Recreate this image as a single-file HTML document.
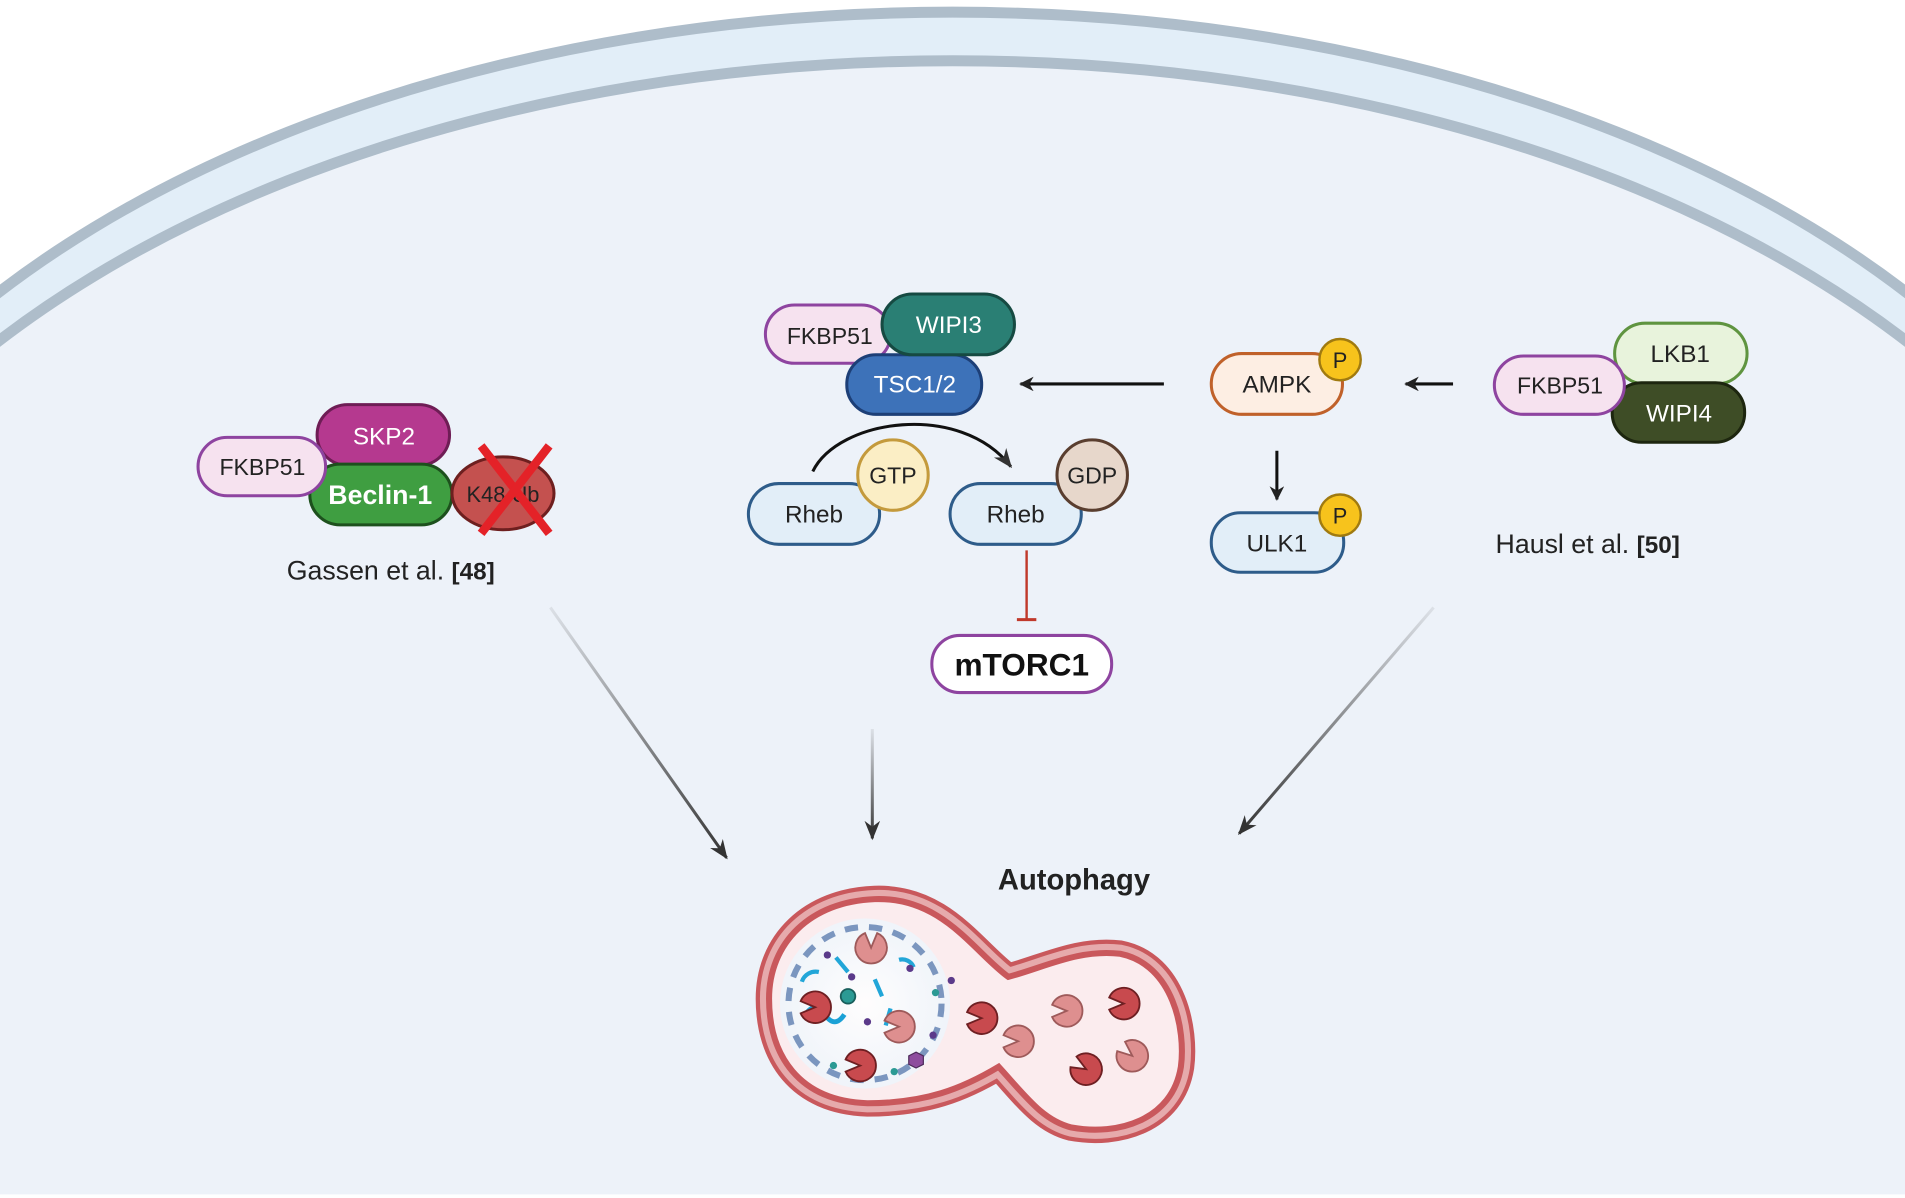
<!DOCTYPE html>
<html><head><meta charset="utf-8"><style>
html,body{margin:0;padding:0;background:#fff;width:1905px;height:1198px;overflow:hidden;}
svg{display:block;}
text{font-family:"Liberation Sans",sans-serif;}
</style></head><body>
<svg width="1905" height="1198" viewBox="0 0 1568 986" preserveAspectRatio="none" xmlns="http://www.w3.org/2000/svg">
<defs>
<marker id="ah" viewBox="0 0 10 10" refX="9" refY="5" markerWidth="12" markerHeight="12" orient="auto" markerUnits="userSpaceOnUse"><path d="M0,0 L10,5 L0,10 L3,5 Z" fill="#222"/></marker>
<marker id="ah2" viewBox="0 0 10 10" refX="9" refY="5" markerWidth="16" markerHeight="16" orient="auto" markerUnits="userSpaceOnUse"><path d="M0,1 L10,5 L0,9 L3,5 Z" fill="#333"/></marker>
<linearGradient id="g1" gradientUnits="userSpaceOnUse" x1="453" y1="500" x2="598" y2="706"><stop offset="0" stop-color="#444" stop-opacity="0.1"/><stop offset="1" stop-color="#333"/></linearGradient>
<linearGradient id="g2" gradientUnits="userSpaceOnUse" x1="718" y1="600" x2="718" y2="690"><stop offset="0" stop-color="#444" stop-opacity="0.1"/><stop offset="1" stop-color="#333"/></linearGradient>
<linearGradient id="g3" gradientUnits="userSpaceOnUse" x1="1180" y1="500" x2="1020" y2="686"><stop offset="0" stop-color="#444" stop-opacity="0.1"/><stop offset="1" stop-color="#333"/></linearGradient>
<radialGradient id="lg" cx="0.5" cy="0.5" r="0.5"><stop offset="0" stop-color="#ffffff"/><stop offset="1" stop-color="#eef5fb"/></radialGradient>
</defs>
<rect width="1568" height="986" fill="#fff"/>
<ellipse cx="784" cy="616" rx="1000" ry="606" fill="#e2eef8" stroke="#aebdca" stroke-width="9"/>
<ellipse cx="784" cy="656" rx="1000" ry="606" fill="#edf2f9" stroke="#aebdca" stroke-width="9"/>
<rect x="0" y="983" width="1568" height="3" fill="#fff"/>

<rect x="261" y="333" width="109" height="50" rx="25" fill="#b5398f" stroke="#6e1d55" stroke-width="2.5"/>
<text x="316" y="366" font-size="20" fill="#fff" text-anchor="middle">SKP2</text>
<rect x="255" y="382" width="117" height="50" rx="25" fill="#3f9e41" stroke="#1d501d" stroke-width="2.5"/>
<text x="313" y="415" font-size="22" font-weight="bold" fill="#fff" text-anchor="middle">Beclin-1</text>
<ellipse cx="414" cy="406" rx="42" ry="30" fill="#c4514f" stroke="#6e1f1f" stroke-width="2.5"/>
<text x="414" y="413" font-size="18" fill="#222" text-anchor="middle">K48 Ub</text>
<line x1="396" y1="367" x2="452" y2="439" stroke="#e42228" stroke-width="7"/>
<line x1="452" y1="367" x2="396" y2="439" stroke="#e42228" stroke-width="7"/>
<rect x="163" y="360" width="105" height="48" rx="24" fill="#f6e2ef" stroke="#8e44a0" stroke-width="2.5"/>
<text x="216" y="391" font-size="19" fill="#222" text-anchor="middle">FKBP51</text>
<text x="236" y="477" font-size="22" fill="#222">Gassen et al. <tspan font-weight="bold" font-size="20">[48]</tspan></text>

<rect x="630" y="251" width="103" height="48" rx="24" fill="#f6e2ef" stroke="#8e44a0" stroke-width="2.5"/>
<text x="683" y="283" font-size="19" fill="#222" text-anchor="middle">FKBP51</text>
<rect x="697" y="292" width="111" height="49" rx="24" fill="#3d72b9" stroke="#1d3f77" stroke-width="2.5"/>
<text x="753" y="323" font-size="20" fill="#fff" text-anchor="middle">TSC1/2</text>
<rect x="726" y="242" width="109" height="50" rx="25" fill="#2a7f74" stroke="#164a42" stroke-width="2.5"/>
<text x="781" y="274" font-size="20" fill="#fff" text-anchor="middle">WIPI3</text>

<path d="M669,388 C690,345 790,330 832,384" fill="none" stroke="#111" stroke-width="2.5" marker-end="url(#ah2)"/>
<rect x="616" y="398" width="108" height="50" rx="25" fill="#e2eef8" stroke="#2e5c8a" stroke-width="2.5"/>
<text x="670" y="430" font-size="20" fill="#222" text-anchor="middle">Rheb</text>
<circle cx="735" cy="391" r="29" fill="#fbeec5" stroke="#c49a3c" stroke-width="2.5"/>
<text x="735" y="398" font-size="19" fill="#222" text-anchor="middle">GTP</text>
<rect x="782" y="398" width="108" height="50" rx="25" fill="#e2eef8" stroke="#2e5c8a" stroke-width="2.5"/>
<text x="836" y="430" font-size="20" fill="#222" text-anchor="middle">Rheb</text>
<circle cx="899" cy="391" r="29" fill="#e7d7cb" stroke="#5a3e2f" stroke-width="2.5"/>
<text x="899" y="398" font-size="19" fill="#222" text-anchor="middle">GDP</text>
<line x1="845" y1="453" x2="845" y2="510" stroke="#c0392b" stroke-width="2"/>
<line x1="837" y1="510" x2="853" y2="510" stroke="#c0392b" stroke-width="2.5"/>
<rect x="767" y="523" width="148" height="47" rx="23" fill="#fff" stroke="#8e44a0" stroke-width="2.5"/>
<text x="841" y="556" font-size="26" font-weight="bold" fill="#111" text-anchor="middle">mTORC1</text>

<line x1="958" y1="316" x2="840" y2="316" stroke="#111" stroke-width="2.5" marker-end="url(#ah)"/>
<rect x="997" y="291" width="108" height="50" rx="25" fill="#fdeee3" stroke="#c0612a" stroke-width="2.5"/>
<text x="1051" y="323" font-size="20" fill="#222" text-anchor="middle">AMPK</text>
<circle cx="1103" cy="296" r="17" fill="#f7c31c" stroke="#a07a10" stroke-width="2"/>
<text x="1103" y="303" font-size="18" fill="#222" text-anchor="middle">P</text>
<line x1="1196" y1="316" x2="1157" y2="316" stroke="#111" stroke-width="2.5" marker-end="url(#ah)"/>
<line x1="1051" y1="371" x2="1051" y2="411" stroke="#111" stroke-width="2.5" marker-end="url(#ah)"/>
<rect x="997" y="422" width="109" height="49" rx="24" fill="#e2eef8" stroke="#2e5c8a" stroke-width="2.5"/>
<text x="1051" y="454" font-size="20" fill="#222" text-anchor="middle">ULK1</text>
<circle cx="1103" cy="424" r="17" fill="#f7c31c" stroke="#a07a10" stroke-width="2"/>
<text x="1103" y="431" font-size="18" fill="#222" text-anchor="middle">P</text>

<rect x="1329" y="266" width="109" height="50" rx="25" fill="#e8f3dc" stroke="#5f9440" stroke-width="2.5"/>
<text x="1383" y="298" font-size="20" fill="#222" text-anchor="middle">LKB1</text>
<rect x="1327" y="315" width="109" height="49" rx="24" fill="#3e4d26" stroke="#1d260f" stroke-width="2.5"/>
<text x="1382" y="347" font-size="20" fill="#fff" text-anchor="middle">WIPI4</text>
<rect x="1230" y="293" width="107" height="48" rx="24" fill="#f6e2ef" stroke="#8e44a0" stroke-width="2.5"/>
<text x="1284" y="324" font-size="19" fill="#222" text-anchor="middle">FKBP51</text>
<text x="1231" y="455" font-size="22" fill="#222">Hausl et al. <tspan font-weight="bold" font-size="20">[50]</tspan></text>

<line x1="453" y1="500" x2="598" y2="706" stroke="url(#g1)" stroke-width="2.5" marker-end="url(#ah2)"/>
<line x1="718" y1="600" x2="718" y2="690" stroke="url(#g2)" stroke-width="2.5" marker-end="url(#ah2)"/>
<line x1="1180" y1="500" x2="1020" y2="686" stroke="url(#g3)" stroke-width="2.5" marker-end="url(#ah2)"/>

<text x="884" y="732" font-size="24" font-weight="bold" fill="#222" text-anchor="middle">Autophagy</text>

<g>
<path d="M720,740 C776,738 802,784 830,804 C860,796 888,781 922,785 C966,794 976,848 972,878 C965,922 920,935 882,928 C858,922 844,902 822,878 C792,896 762,908 714,908 C657,906 633,868 633,822 C633,776 667,742 720,740 Z" fill="none" stroke="#c9585c" stroke-width="22"/>
<path d="M720,740 C776,738 802,784 830,804 C860,796 888,781 922,785 C966,794 976,848 972,878 C965,922 920,935 882,928 C858,922 844,902 822,878 C792,896 762,908 714,908 C657,906 633,868 633,822 C633,776 667,742 720,740 Z" fill="none" stroke="#e6aaac" stroke-width="15"/>
<path d="M720,740 C776,738 802,784 830,804 C860,796 888,781 922,785 C966,794 976,848 972,878 C965,922 920,935 882,928 C858,922 844,902 822,878 C792,896 762,908 714,908 C657,906 633,868 633,822 C633,776 667,742 720,740 Z" fill="#fbecee" stroke="#c9585c" stroke-width="5"/>
<circle cx="712" cy="826" r="70" fill="url(#lg)" opacity="0.9"/>
<circle cx="712" cy="826" r="63" fill="none" stroke="#7b96bf" stroke-width="5" stroke-dasharray="11 9"/>
<path d="M663,835 q8,-12 16,0 q8,12 16,0" fill="none" stroke="#1ba1d6" stroke-width="4"/>
<path d="M688,788 l10,12 M720,806 l6,14 M733,830 l-4,14 M660,808 a12,12 0 0 1 14,-8 M740,790 a10,10 0 0 1 12,6" fill="none" stroke="#22a6d8" stroke-width="3.5"/>
<circle cx="698" cy="820" r="6" fill="#2b9a94" stroke="#1a5f5c" stroke-width="1.5"/>
<g fill="#5b3a8a"><circle cx="681" cy="786" r="3"/><circle cx="701" cy="804" r="3"/><circle cx="714" cy="841" r="3"/><circle cx="749" cy="797" r="3"/><circle cx="783" cy="807" r="3"/><circle cx="768" cy="852" r="3"/></g>
<g fill="#2b9a94"><circle cx="686" cy="877" r="3"/><circle cx="736" cy="882" r="3"/><circle cx="770" cy="817" r="3"/></g>
<polygon points="754,866 760,869 760,876 754,879 748,876 748,869" fill="#8e4d9e" stroke="#4d2b5a" stroke-width="1"/>
<g stroke-width="1.5">
<g transform="translate(671,829)"><path d="M0,0 L-12,-5 A13,13 0 1,1 -12,5 Z" fill="#c84a4e" stroke="#6e1f22"/></g>
<g transform="translate(717,780) rotate(90)"><path d="M0,0 L-12,-5 A13,13 0 1,1 -12,5 Z" fill="#de8f8f" stroke="#9e5a5a"/></g>
<g transform="translate(740,845)"><path d="M0,0 L-12,-5 A13,13 0 1,1 -12,5 Z" fill="#de8f8f" stroke="#9e5a5a"/></g>
<g transform="translate(708,877)"><path d="M0,0 L-12,-5 A13,13 0 1,1 -12,5 Z" fill="#c84a4e" stroke="#6e1f22"/></g>
<g transform="translate(808,838)"><path d="M0,0 L-12,-5 A13,13 0 1,1 -12,5 Z" fill="#c84a4e" stroke="#6e1f22"/></g>
<g transform="translate(878,832)"><path d="M0,0 L-12,-5 A13,13 0 1,1 -12,5 Z" fill="#de8f8f" stroke="#9e5a5a"/></g>
<g transform="translate(838,857)"><path d="M0,0 L-12,-5 A13,13 0 1,1 -12,5 Z" fill="#de8f8f" stroke="#9e5a5a"/></g>
<g transform="translate(925,826)"><path d="M0,0 L-12,-5 A13,13 0 1,1 -12,5 Z" fill="#c84a4e" stroke="#6e1f22"/></g>
<g transform="translate(894,880) rotate(30)"><path d="M0,0 L-12,-5 A13,13 0 1,1 -12,5 Z" fill="#c84a4e" stroke="#6e1f22"/></g>
<g transform="translate(932,869) rotate(40)"><path d="M0,0 L-12,-5 A13,13 0 1,1 -12,5 Z" fill="#de8f8f" stroke="#9e5a5a"/></g>
</g>
</g>
</svg>
</body></html>
